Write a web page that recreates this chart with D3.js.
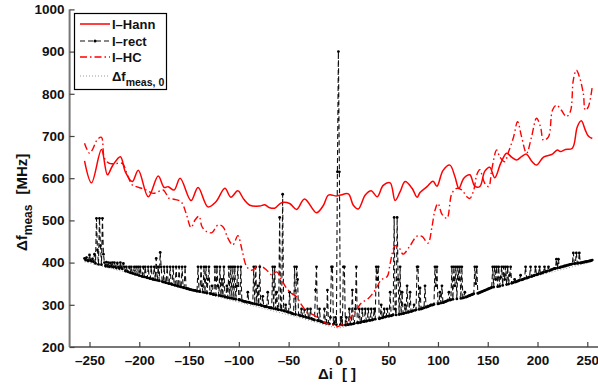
<!DOCTYPE html>
<html><head><meta charset="utf-8">
<script src="https://cdn.jsdelivr.net/npm/d3@7"></script>
<style>
html,body{margin:0;padding:0;background:#fff;}
svg{display:block;font-family:"Liberation Sans",Arial,sans-serif;font-weight:bold;}
</style></head>
<body><svg id="c" width="598" height="390"></svg>
<script>
// ---- data ----
const xTicks = [-250,-200,-150,-100,-50,0,50,100,150,200,250];
const yTicks = [200,300,400,500,600,700,800,900,1000];
const legendLabels = ["I\u2013Hann","I\u2013rect","I\u2013HC","\u0394f"];

const hannX = [-255,-248,-238,-232,-227,-219,-214,-207,-201,-191,-181,-175,-171,-165,-159,-148,-141,-131,-123,-114,-108,-101,-95,-89,-79,-74,-69,-64,-57,-49,-42,-34,-22,-15,-10,-2,2,10,15,20,27,33,39,45,52,57,62,67,74,79,82,89,95,99,105,112,117,121,126,132,137,142,147,152,157,163,169,174,179,184,189,194,199,206,215,220,223,228,235,240,244,248,251,255];
const hannY = [641,589,668,608,629,651,615,592,619,556,605,578,580,572,600,547,578,532,544,576,555,570,550,536,534,537,530,529,542,540,526,551,518,536,560,558,560,563,536,527,560,570,556,583,589,547,568,592,576,555,566,580,593,581,618,631,604,576,600,608,581,580,616,626,601,635,659,650,643,651,657,641,631,650,657,667,663,668,671,722,736,714,700,694];

const hcX = [-255,-250,-247,-242,-238,-235,-230,-223,-217,-212,-207,-203,-193,-186,-176,-173,-170,-165,-158,-153,-148,-144,-140,-137,-132,-127,-121,-116,-111,-106,-101,-97,-92,-87,-80,-72,-67,-62,-57,-52,-47,-42,-37,-32,-25,-18,-12,-5,-2,3,8,13,18,23,30,37,43,49,52,57,61,65,72,79,84,90,94,97,100,104,109,114,119,124,129,132,136,139,142,147,151,154,159,162,167,171,176,180,184,189,194,199,203,206,211,215,219,224,229,233,236,239,242,246,248,251,255];
const hcY = [683,659,668,692,697,647,635,635,635,608,584,580,572,564,572,563,552,550,544,517,483,501,510,485,473,471,489,485,458,442,464,432,390,382,394,382,371,378,359,339,327,319,300,284,276,264,256,252,248,252,256,272,288,304,315,335,359,367,398,440,435,420,440,463,462,446,485,524,540,515,505,564,576,572,556,552,572,608,620,588,580,620,667,651,639,663,698,734,698,659,698,742,722,690,698,761,773,761,746,758,833,856,841,801,761,769,817];

// I-rect: one value per index, starting at rectStart, step 1
const rectStart = -255;
const rectY = [
410,406,412,405,404,418,406,403,409,402,
420,398,505,430,396,505,440,395,505,420,
400,392,401,391,400,390,399,391,400,389,
400,390,387,399,390,386,400,389,385,398,
390,380,390,379,378,390,376,390,375,374,
390,372,390,371,390,369,390,368,367,390,
366,390,365,364,390,363,362,390,361,360,
390,359,410,358,390,357,424,390,355,354,
390,353,352,390,351,350,390,349,348,390,
347,346,390,345,344,390,343,342,390,341,
340,390,339,338,338,337,336,336,335,335,
334,334,333,332,390,332,331,390,345,330,
390,329,390,328,360,390,327,326,345,325,
324,390,323,390,345,322,390,321,360,320,
390,319,318,345,317,390,316,390,315,390,
314,390,313,345,390,312,311,390,310,309,
308,308,307,306,330,306,305,304,304,303,
390,302,390,301,345,300,390,299,298,320,
297,296,296,295,330,294,293,293,292,390,
291,390,290,330,289,288,507,288,287,562,
286,285,300,284,283,282,330,281,280,279,
278,390,277,390,360,276,275,274,290,273,
272,288,271,270,290,269,268,290,267,266,
265,264,335,390,263,262,290,261,260,259,
258,290,257,256,335,256,255,270,390,390,
254,258,270,253,615,900,615,253,270,252,
390,390,252,270,253,253,290,254,254,335,
255,256,290,390,257,257,290,258,259,290,
260,260,290,261,262,290,263,263,290,264,
265,290,266,390,360,390,267,268,300,269,
270,290,271,272,290,273,273,330,274,275,
276,507,290,276,507,360,277,390,278,330,
279,280,300,281,345,282,283,330,284,285,
286,300,287,288,390,390,289,340,290,291,
292,293,345,294,295,296,297,298,300,299,
300,301,390,345,390,302,303,330,304,345,
305,306,307,308,309,310,330,311,312,390,
313,390,345,390,314,390,360,390,315,390,
316,317,330,318,319,320,321,322,323,324,
325,326,390,350,390,327,328,329,330,331,
332,333,334,335,336,337,338,339,340,341,
390,342,390,360,390,343,390,344,365,390,
346,390,360,390,348,390,349,370,390,351,
352,353,360,354,355,356,357,358,370,359,
360,361,362,390,363,364,365,366,390,367,
368,369,370,390,371,372,373,390,374,375,
376,377,390,378,379,380,390,381,382,383,
384,385,386,386,408,387,408,388,389,390,
390,391,392,392,393,394,394,395,396,396,
397,423,397,398,423,398,399,423,399,400,
400,401,401,402,402,403,403,404,404,405,
406];

const f0X = [-255,-250,-245,-240,-235,-230,-225,-220,-215,-210,-205,-200,-195,-190,-185,-180,-175,-170,-165,-160,-155,-150,-145,-140,-135,-130,-125,-120,-115,-110,-105,-100,-95,-90,-85,-80,-75,-70,-65,-60,-55,-50,-45,-40,-35,-30,-25,-20,-15,-10,-5,0,5,10,15,20,25,30,35,40,45,50,55,60,65,70,75,80,85,90,95,100,105,110,115,120,125,130,135,140,145,150,155,160,165,170,175,180,185,190,195,200,205,210,215,220,225,230,235,240,245,250,255];
const f0Y = [402,399,396,393,390,387,384,381,378,375,372,369,366,363,359,356,353,349,346,343,339,336,333,330,327,324,321,318,315,312,309,306,303,300,297,294,291,288,285,282,279,276,273,270,267,263,260,257,253,250,247,245,247,250,253,257,260,263,267,270,273,276,279,282,285,288,291,294,297,300,303,306,309,312,315,318,321,324,327,330,333,336,339,343,346,349,353,356,359,363,366,369,372,375,378,381,384,387,390,393,396,399,402];

// ---- chart ----
const svg = d3.select("#c");
const x = d3.scaleLinear().domain([-270,270]).range([69.6,607.2]);
const y = d3.scaleLinear().domain([200,1000]).range([347,9.4]);

const axCol = "#777";
const FONT = "'Liberation Sans',Arial,sans-serif";
// axes
const gx = svg.append("g").attr("transform","translate(0,347)")
  .call(d3.axisBottom(x).tickValues(xTicks).tickSizeInner(-5).tickSizeOuter(0).tickPadding(8).tickFormat(d=>d<0?"\u2013"+(-d):String(d)));
const gy = svg.append("g").attr("transform","translate(69.6,0)")
  .call(d3.axisLeft(y).tickValues(yTicks).tickSizeInner(-5).tickSizeOuter(0).tickPadding(5).tickFormat(d3.format("d")));
[gx,gy].forEach(g=>{
  g.attr("font-size",null).attr("font-family",null);
  g.select(".domain").attr("stroke",axCol).attr("stroke-width",2);
  g.selectAll(".tick line").attr("stroke","#444").attr("stroke-width",1.2);
  g.selectAll("text").attr("fill","#111").style("font-size","13.5px").style("font-weight","bold")
   .style("font-family",FONT);
});
gx.select(".domain").attr("d","M69.6,0H598");
gy.select(".domain").attr("d","M0,347V9.4");

const plot = svg.append("g");
const lineXY = (xs, ys) => xs.map((v,i)=>[x(v), y(ys[i])]);

// dotted reference
plot.append("path").attr("d", d3.line()(lineXY(f0X,f0Y)))
  .attr("fill","none").attr("stroke","#999").attr("stroke-width",1).attr("stroke-dasharray","1,2");

// rect
const rectX = rectY.map((v,i)=>rectStart+i);
plot.append("path").attr("d", d3.line()(lineXY(rectX,rectY)))
  .attr("fill","none").attr("stroke","#111").attr("stroke-width",1.1).attr("stroke-dasharray","5,3");
plot.selectAll("circle.r").data(rectY).join("circle").attr("class","r")
  .attr("cx",(d,i)=>x(rectX[i])).attr("cy",d=>y(d)).attr("r",1.4).attr("fill","#000");

// HC
plot.append("path").attr("d", d3.line().curve(d3.curveCatmullRom)(lineXY(hcX,hcY)))
  .attr("fill","none").attr("stroke","#f00").attr("stroke-width",1.4).attr("stroke-dasharray","7,3,1.5,3");
// Hann
plot.append("path").attr("d", d3.line().curve(d3.curveCatmullRom)(lineXY(hannX,hannY)))
  .attr("fill","none").attr("stroke","#f00").attr("stroke-width",1.5);

// legend
const lg = svg.append("g");
lg.append("rect").attr("x",74.5).attr("y",13.5).attr("width",92).attr("height",76)
  .attr("fill","#fff").attr("stroke","#000").attr("stroke-width",1.2);
const ly = [24,41,57,76];
const styles = [
  {stroke:"#f00",dash:null,w:1.5},
  {stroke:"#111",dash:"5,3",w:1.1},
  {stroke:"#f00",dash:"7,3,1.5,3",w:1.4},
  {stroke:"#999",dash:"1,2",w:1}
];
styles.forEach((s,i)=>{
  lg.append("line").attr("x1",80).attr("x2",110).attr("y1",ly[i]).attr("y2",ly[i])
    .attr("stroke",s.stroke).attr("stroke-width",s.w).attr("stroke-dasharray",s.dash);
});
lg.append("circle").attr("cx",95).attr("cy",ly[1]).attr("r",1.5).attr("fill","#000");
legendLabels.forEach((t,i)=>{
  const tx = lg.append("text").attr("x",112).attr("y",ly[i]+4.5).style("font-size","13px").attr("fill","#111");
  tx.append("tspan").text(t);
  if(i===3){ tx.append("tspan").attr("dy",5).style("font-size","10.5px").text("meas, 0"); }
});

// axis titles
const xt = svg.append("text").attr("x",318).attr("y",379).style("font-size","15px").attr("fill","#111");
xt.append("tspan").text("\u0394i");
xt.append("tspan").attr("dx",9).text("[ ]");

const yt = svg.append("text").attr("transform","translate(27,251) rotate(-90)").style("font-size","15px").attr("fill","#111");
yt.append("tspan").text("\u0394f");
yt.append("tspan").attr("dy",5).style("font-size","12px").text("meas");
yt.append("tspan").attr("dy",-5).attr("dx",10).text("[MHz]");
</script></body></html>
